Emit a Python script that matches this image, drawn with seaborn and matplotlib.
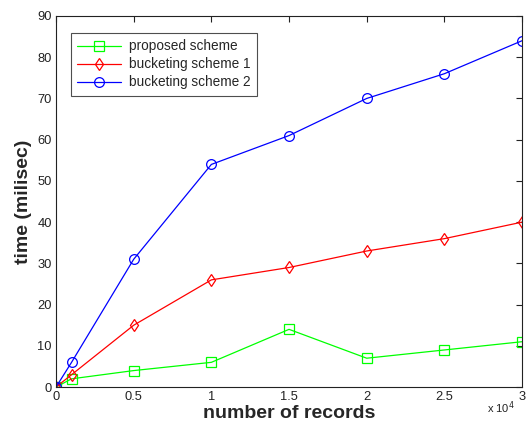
import matplotlib
matplotlib.use("Agg")
import matplotlib.pyplot as plt
import seaborn as sns
import pandas as pd
from matplotlib.ticker import FuncFormatter

# number of records vs. time
records = [0, 1000, 5000, 10000, 15000, 20000, 25000, 30000]
proposed = [0, 2, 4, 6, 14, 7, 9, 11]
bucket1 = [0, 3, 15, 26, 29, 33, 36, 40]
bucket2 = [0, 6, 31, 54, 61, 70, 76, 84]
series_names = ["proposed scheme", "bucketing scheme 1", "bucketing scheme 2"]

sns.set_style("white")
plt.rcParams['font.family'] = ['Liberation Sans', 'DejaVu Sans']

fig = plt.figure(figsize=(5.26, 4.32), dpi=100)
ax = fig.add_axes([0.1065, 0.104, 0.886, 0.859])

styles = [("#00ff00", "s", 6.5), ("#ff0000", "d", 6.5), ("#0000ff", "o", 7)]
for name, vals, (col, mk, ms) in zip(series_names, [proposed, bucket1, bucket2], styles):
    df = pd.DataFrame({"records": records, "time": vals})
    sns.lineplot(data=df, x="records", y="time", ax=ax, color=col, marker=mk,
                 markersize=ms, markerfacecolor="none", markeredgecolor=col,
                 markeredgewidth=0.9, linewidth=0.9, label=name)

ax.set_xlim(0, 30000)
ax.set_ylim(0, 90)
ax.set_xticks(range(0, 30001, 5000))
ax.set_yticks(range(0, 91, 10))
ax.xaxis.set_major_formatter(FuncFormatter(lambda v, p: f"{v/1e4:g}"))
ax.tick_params(direction="in", top=True, right=True, length=4, width=0.8,
               labelsize=9.3, colors="#222222", pad=3)
for sp in ax.spines.values():
    sp.set_color("#222222")
    sp.set_linewidth(0.8)

ax.set_xlabel("number of records", fontsize=14, fontweight="bold", labelpad=1)
ax.set_ylabel("time (milisec)", fontsize=14, fontweight="bold", labelpad=4)
fig.text(0.925, 0.045, "x 10$^4$", fontsize=8, color="#222222")

leg = ax.legend(loc="upper left", bbox_to_anchor=(0.018, 0.972), fontsize=9.8,
                frameon=True, fancybox=False, handlelength=3.2, borderpad=0.45,
                labelspacing=0.3, handletextpad=0.6)
leg.get_frame().set_edgecolor("#222222")
leg.get_frame().set_linewidth(0.8)

fig.savefig("out.png", dpi=100)
